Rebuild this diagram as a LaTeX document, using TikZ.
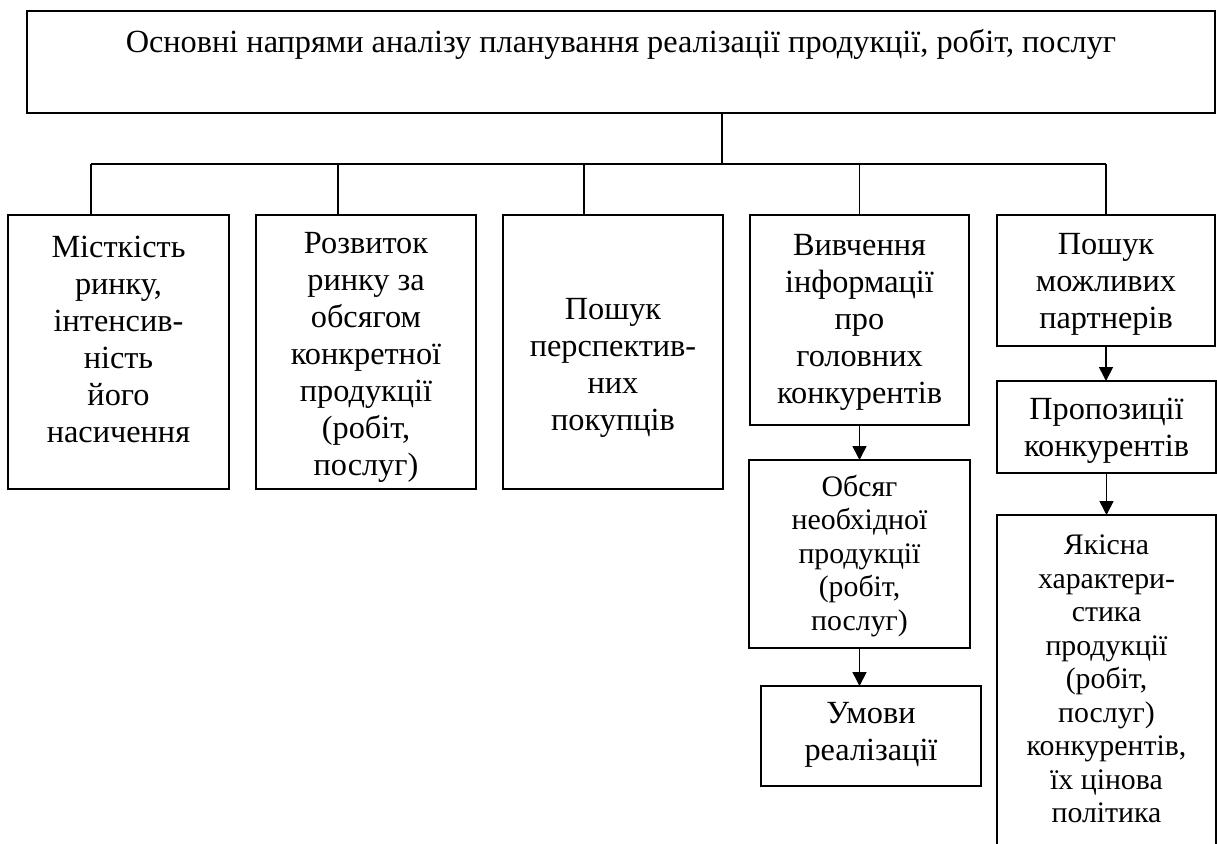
\documentclass[tikz,border=0pt]{standalone}
\usepackage{fontspec}
\setmainfont{Liberation Serif}
\usetikzlibrary{arrows.meta}
\begin{document}
\begin{tikzpicture}[x=1pt,y=-1pt,
  box/.style={draw, line width=1.6pt, inner sep=0pt, outer sep=0pt},
  big/.style={font=\fontsize{32.3}{37}\selectfont, align=center, inner sep=0pt},
  small/.style={font=\fontsize{29.8}{33.5}\selectfont, align=center, inner sep=0pt},
  link/.style={line width=1.6pt},
  arr/.style={line width=1.6pt, -{Triangle[length=14pt,width=14pt]}}]
\useasboundingbox (0,0) rectangle (1217,843);
\clip (0,0) rectangle (1217,843);
% boxes
\node[box, minimum width=1188pt, minimum height=102pt] (top) at (621,62) {};
\node[box, minimum width=221pt, minimum height=274pt] (b1) at (118.5,352) {};
\node[box, minimum width=220pt, minimum height=274pt] (b2) at (366,352) {};
\node[box, minimum width=220pt, minimum height=274pt] (b3) at (613,352) {};
\node[box, minimum width=219pt, minimum height=210pt] (b4) at (859.5,320) {};
\node[box, minimum width=218pt, minimum height=131pt] (b5) at (1106,280.5) {};
\node[box, minimum width=221pt, minimum height=188pt] (b6) at (859.5,554) {};
\node[box, minimum width=220pt, minimum height=100pt] (b7) at (871,736) {};
\node[box, minimum width=219pt, minimum height=92pt] (b8) at (1106.5,427) {};
\node[box, minimum width=219pt, minimum height=385pt] (b9) at (1106.5,707.5) {};
% texts
\node[big] (t0) at (621,44) {Основні напрями аналізу планування реалізації продукції, робіт, послуг};
\node[big] (t1) at (118.5,339.5) {Місткість\\ринку,\\інтенсив-\\ність\\його\\насичення};
\node[big] (t2) at (366,357.5) {Розвиток\\ринку за\\обсягом\\конкретної\\продукції\\(робіт,\\послуг)};
\node[big] (t3) at (613,368) {Пошук\\перспектив-\\них\\покупців};
\node[big] (t4) at (859.5,322) {Вивчення\\інформації\\про\\головних\\конкурентів};
\node[big] (t5) at (1106,284) {Пошук\\можливих\\партнерів};
\node[small] (t6) at (859.5,556) {Обсяг\\необхідної\\продукції\\(робіт,\\послуг)};
\node[big] (t7) at (871,734.5) {Умови\\реалізації};
\node[big] (t8) at (1106.5,430.5) {Пропозиції\\конкурентів};
\node[small] (t9) at (1106.5,679) {Якісна\\характери-\\стика\\продукції\\(робіт,\\послуг)\\конкурентів,\\їх цінова\\політика};
% tree connectors
\coordinate (hub) at (722,164);
\coordinate (j1) at (91,164);
\coordinate (j2) at (338,164);
\coordinate (j3) at (584,164);
\coordinate (j4) at (859.5,164);
\coordinate (j5) at (1106,164);
\draw[link] (top.south -| hub) -- (hub);
\draw[link] (j1) -- (j5);
\draw[link] (j1) -- (j1 |- b1.north);
\draw[link] (j2) -- (j2 |- b2.north);
\draw[link] (j3) -- (j3 |- b3.north);
\draw[link] (j4) -- (j4 |- b4.north);
\draw[link] (j5) -- (j5 |- b5.north);
% arrows
\draw[arr] (b4.south) -- (b6.north);
\draw[arr] (b6.south) -- (b6.south |- b7.north);
\draw[arr] (b5.south) -- (b5.south |- b8.north);
\draw[arr] (b8.south) -- (b8.south |- b9.north);
\end{tikzpicture}
\end{document}
